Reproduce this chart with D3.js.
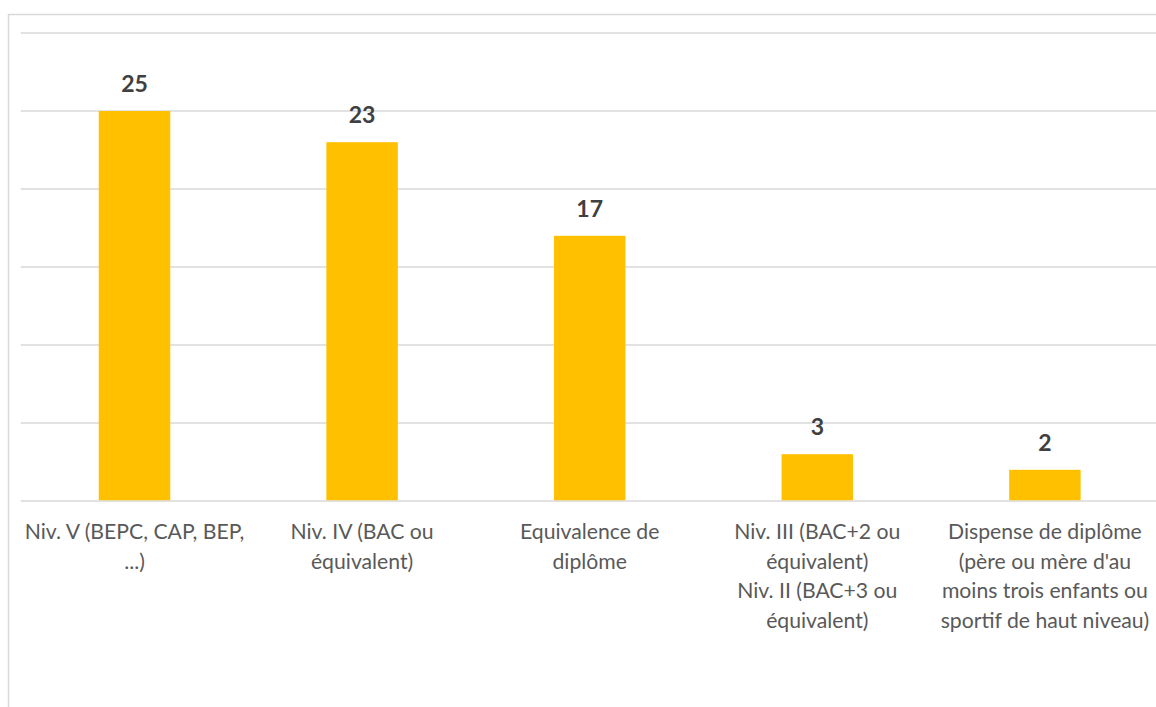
<!DOCTYPE html>
<html>
<head>
<meta charset="utf-8">
<script src="https://cdn.jsdelivr.net/npm/d3@7"></script>
<style>
  body { margin: 0; background: #fff; }
  svg { display: block; }
</style>
</head>
<body>
<div id="chart"></div>
<script>
// data
var categories = [
  ["Niv. V (BEPC, CAP, BEP,", "...)"],
  ["Niv. IV (BAC ou", "équivalent)"],
  ["Equivalence de", "diplôme"],
  ["Niv. III (BAC+2 ou", "équivalent)", "Niv. II (BAC+3 ou", "équivalent)"],
  ["Dispense de diplôme", "(père ou mère d'au", "moins trois enfants ou", "sportif de haut niveau)"]
];
var values = [25, 23, 17, 3, 2];
var yTicks = [0, 5, 10, 15, 20, 25, 30];

var W = 1156, H = 707;
// plot area (note: "top" is reserved on window, so use plotTop)
var plotLeft = 20.7, plotRight = 1158.7, plotTop = 33, plotBottom = 501;

var svg = d3.select("#chart").append("svg")
    .attr("width", W)
    .attr("height", H);

// chart frame (runs off the picture at right and bottom)
svg.append("rect")
    .attr("x", 8.5).attr("y", 14.5)
    .attr("width", 1170).attr("height", 720)
    .attr("fill", "none")
    .attr("stroke", "#d9d9d9")
    .attr("stroke-width", 1.5);

var x = d3.scaleBand()
    .domain(d3.range(values.length))
    .range([plotLeft, plotRight])
    .paddingInner(0.686)
    .paddingOuter(0.343);

var y = d3.scaleLinear()
    .domain([0, 30])
    .range([plotBottom, plotTop]);

// gridlines
svg.append("g").selectAll("line")
    .data(yTicks)
    .enter().append("line")
    .attr("x1", plotLeft)
    .attr("x2", plotRight)
    .attr("y1", function (d) { return y(d); })
    .attr("y2", function (d) { return y(d); })
    .attr("stroke", "#d9d9d9")
    .attr("stroke-width", 1.5);

// bars
svg.append("g").selectAll("rect")
    .data(values)
    .enter().append("rect")
    .attr("x", function (d, i) { return x(i); })
    .attr("y", function (d) { return y(d); })
    .attr("width", x.bandwidth())
    .attr("height", function (d) { return y(0) - y(d) - 0.75; })
    .attr("fill", "#ffc000");

// value labels
svg.append("g").selectAll("text")
    .data(values)
    .enter().append("text")
    .attr("x", function (d, i) { return x(i) + x.bandwidth() / 2; })
    .attr("y", function (d) { return y(d) - 19; })
    .attr("text-anchor", "middle")
    .attr("font-family", "Lato, sans-serif")
    .attr("font-weight", "bold")
    .attr("font-size", 23)
    .attr("fill", "#404040")
    .text(function (d) { return d; });

// category labels
var cat = svg.append("g").selectAll("text")
    .data(categories)
    .enter().append("text")
    .attr("x", function (d, i) { return x(i) + x.bandwidth() / 2; })
    .attr("y", 539)
    .attr("text-anchor", "middle")
    .attr("font-family", "Lato, sans-serif")
    .attr("font-size", 21.2)
    .attr("fill", "#595959");

cat.selectAll("tspan")
    .data(function (d) { return d; })
    .enter().append("tspan")
    .attr("x", function () { return d3.select(this.parentNode).attr("x"); })
    .attr("dy", function (d, i) { return i === 0 ? 0 : 29.5; })
    .text(function (d) { return d; });
</script>
</body>
</html>
